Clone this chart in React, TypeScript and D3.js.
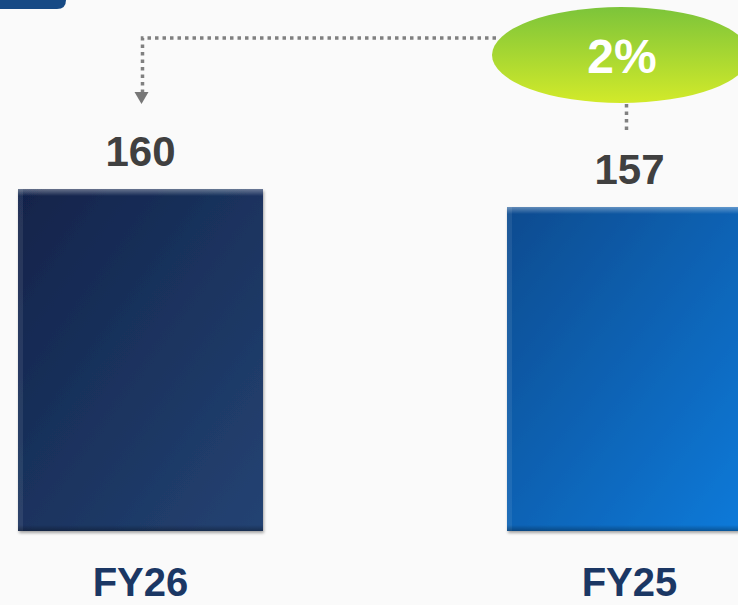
import React from "react";
import { scaleBand, scaleLinear } from "d3";

const categories = ["FY26", "FY25"];
const values = [160, 157];
const valueLabels = ["160", "157"];
const changeLabel = "2%";

const W = 738;
const H = 605;

const App = () => {
  const x = scaleBand<string>()
    .domain(categories)
    .range([18, 752])
    .paddingInner(0.499)
    .paddingOuter(0);

  // axis does not start at zero in the source
  const y = scaleLinear().domain([103, 160]).range([531, 189]);

  const bw = x.bandwidth();
  const cx = (c: string) => (x(c) as number) + bw / 2;

  const x1 = cx(categories[0]);
  const x2 = cx(categories[1]);

  const ellCx = 621;
  const ellCy = 55;

  return (
    <div>
      <style>{"body{margin:0;background:#fafafa}"}</style>
      <svg width={W} height={H} style={{ display: "block", background: "#fafafa" }}>
        <defs>
          <linearGradient id="g0" x1="0" y1="0" x2="1" y2="1">
            <stop offset="0" stopColor="#11234a" />
            <stop offset="1" stopColor="#244373" />
          </linearGradient>
          <linearGradient id="g1" x1="0" y1="0" x2="1" y2="1">
            <stop offset="0" stopColor="#0a4b8f" />
            <stop offset="1" stopColor="#0a7bdb" />
          </linearGradient>
          <linearGradient id="ell" x1="0" y1="0" x2="0" y2="1">
            <stop offset="0" stopColor="#7cc43a" />
            <stop offset="1" stopColor="#d2ea2a" />
          </linearGradient>
          <linearGradient id="topHi" x1="0" y1="0" x2="0" y2="1">
            <stop offset="0" stopColor="#ffffff" stopOpacity="0.35" />
            <stop offset="1" stopColor="#ffffff" stopOpacity="0" />
          </linearGradient>
          <linearGradient id="botSh" x1="0" y1="0" x2="0" y2="1">
            <stop offset="0" stopColor="#000000" stopOpacity="0" />
            <stop offset="1" stopColor="#000000" stopOpacity="0.3" />
          </linearGradient>
          <filter id="shadow" x="-10%" y="-10%" width="120%" height="120%">
            <feDropShadow dx="1" dy="2" stdDeviation="1.5" floodColor="#000" floodOpacity="0.35" />
          </filter>
        </defs>

        {/* corner tab */}
        <path d="M0,0 H66 V0 Q66,9 57,9 H0 Z" fill="#174a85" />

        {/* bars */}
        {categories.map((c, i) => {
          const bx = x(c) as number;
          const by = y(values[i]);
          const bh = y(103) - by;
          return (
            <g key={c}>
              <rect x={bx} y={by} width={bw} height={bh} fill={`url(#g${i})`} filter="url(#shadow)" />
              <rect x={bx} y={by} width={bw} height={7} fill="url(#topHi)" />
              <rect x={bx} y={by} width={5} height={bh} fill="#ffffff" opacity={0.08} />
              <rect x={bx} y={by + bh - 6} width={bw} height={6} fill="url(#botSh)" />
              <text
                x={cx(c)}
                y={by - 23}
                textAnchor="middle"
                fontFamily="Liberation Sans, Arial, sans-serif"
                fontWeight="bold"
                fontSize={42}
                fill="#404040"
              >
                {valueLabels[i]}
              </text>
              <text
                x={cx(c)}
                y={596}
                textAnchor="middle"
                fontFamily="Liberation Sans, Arial, sans-serif"
                fontWeight="bold"
                fontSize={40}
                fill="#1b3764"
              >
                {c}
              </text>
            </g>
          );
        })}

        {/* connector */}
        <path
          d={`M${ellCx - 125},38 H${x1 + 2} V95`}
          fill="none"
          stroke="#808080"
          strokeWidth={3.5}
          strokeDasharray="3.5 4"
        />
        <path d={`M${x1 - 6},92 L${x1 + 8},92 L${x1 + 1},104 Z`} fill="#777" />
        <path
          d={`M${x2 - 3},104 V133`}
          fill="none"
          stroke="#808080"
          strokeWidth={3.5}
          strokeDasharray="3.5 4"
        />

        {/* change bubble */}
        <ellipse cx={ellCx} cy={ellCy} rx={129} ry={48} fill="url(#ell)" />
        <text
          x={ellCx + 1}
          y={73}
          textAnchor="middle"
          fontFamily="Liberation Sans, Arial, sans-serif"
          fontWeight="bold"
          fontSize={48}
          fill="#ffffff"
        >
          {changeLabel}
        </text>
      </svg>
    </div>
  );
};

export default App;
